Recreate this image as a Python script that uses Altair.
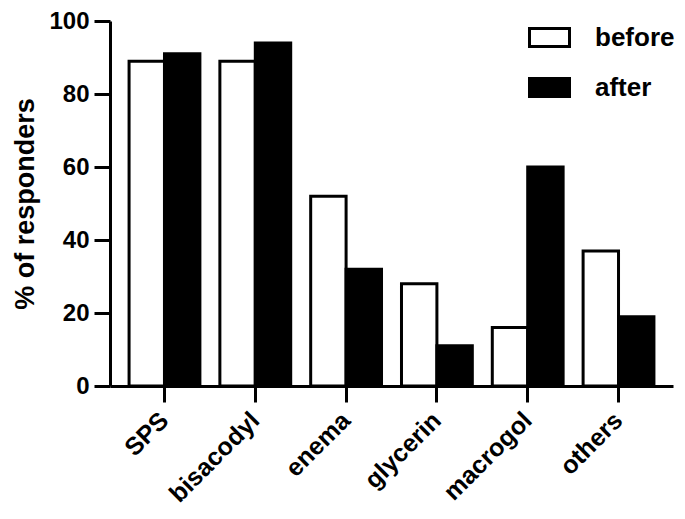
import altair as alt
import pandas as pd

categories = ["SPS", "bisacodyl", "enema", "glycerin", "macrogol", "others"]
before = [89, 89, 52, 28, 16, 37]
after = [91, 94, 32, 11, 60, 19]
groups = ["before", "after"]

rows = []
for c, b, a in zip(categories, before, after):
    rows.append({"drug": c, "when": "before", "value": b})
    rows.append({"drug": c, "when": "after", "value": a})
df = pd.DataFrame(rows)

FONT = "Liberation Sans"
H = 365

chart = alt.Chart(df).mark_bar(stroke="black", strokeWidth=3).encode(
    x=alt.X("drug:N", sort=categories, title=None,
            scale=alt.Scale(paddingInner=0.22, paddingOuter=0.21),
            axis=alt.Axis(labelAngle=-45, labelAlign="right", labelBaseline="middle",
                          labelFontSize=25, labelFontWeight="bold", labelFont=FONT,
                          labelColor="black", labelPadding=14,
                          domainColor="black", domainWidth=3,
                          tickColor="black", tickWidth=3, tickSize=16)),
    xOffset=alt.XOffset("when:N", sort=groups, scale=alt.Scale(domain=groups, paddingInner=0, paddingOuter=0)),
    y=alt.Y("value:Q", title="% of responders",
            scale=alt.Scale(domain=[0, 100], nice=False),
            axis=alt.Axis(values=[0, 20, 40, 60, 80, 100], grid=False,
                          labelFontSize=24, labelFontWeight="bold", labelFont=FONT,
                          labelColor="black", labelPadding=5,
                          titleFontSize=27, titleFontWeight="bold", titleFont=FONT,
                          titleColor="black", titleX=-71, titleY=H / 2,
                          domainColor="black", domainWidth=3,
                          tickColor="black", tickWidth=3, tickSize=16)),
    fill=alt.Fill("when:N", sort=groups,
                  scale=alt.Scale(domain=groups, range=["white", "black"]),
                  legend=alt.Legend(title=None, orient="none", legendX=418, legendY=-5,
                                    symbolType="M-1,-0.45L1,-0.45L1,0.45L-1,0.45Z",
                                    symbolSize=1600, symbolStrokeColor="black",
                                    symbolStrokeWidth=3, rowPadding=13, labelOffset=24,
                                    labelFontSize=26, labelFontWeight="bold", labelFont=FONT,
                                    labelColor="black")),
).properties(
    width=563, height=H,
    autosize=alt.AutoSizeParams(type="none"),
    padding={"left": 102, "top": 13, "right": 4, "bottom": 125},
).configure_view(stroke=None)

chart.save("out.html", embed_options={"renderer": "svg", "actions": False})
